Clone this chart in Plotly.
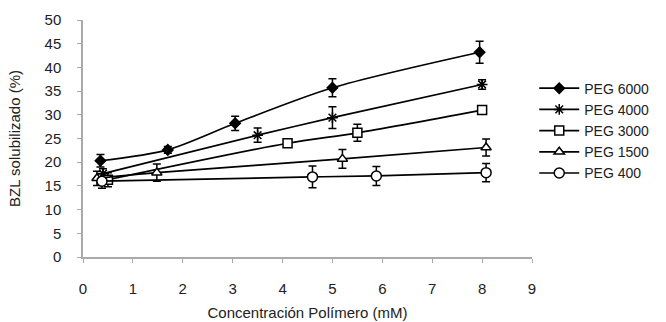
import plotly.graph_objects as go

# Solubilised BZL (%) against polymer concentration (mM) for each PEG grade
peg6000_x = [0.35, 1.70, 3.05, 5.00, 7.95]
peg6000_y = [20.3, 22.6, 28.2, 35.7, 43.2]
peg6000_err = [1.3, 0.7, 1.5, 1.9, 2.3]

peg4000_x = [0.40, 3.50, 5.00, 8.00]
peg4000_y = [17.6, 25.7, 29.4, 36.4]
peg4000_err = [1.0, 1.5, 2.3, 1.0]

peg3000_x = [0.50, 4.10, 5.50, 8.00]
peg3000_y = [16.3, 24.0, 26.2, 31.0]
peg3000_err = [1.5, 0.8, 1.8, 0.8]

peg1500_x = [0.28, 1.48, 5.20, 8.08]
peg1500_y = [16.6, 17.8, 20.7, 23.1]
peg1500_err = [1.5, 1.8, 2.0, 1.8]

peg400_x = [0.38, 4.60, 5.88, 8.08]
peg400_y = [16.0, 16.9, 17.1, 17.8]
peg400_err = [1.5, 2.3, 2.0, 1.9]

x_ticks = list(range(0, 10))
y_ticks = list(range(0, 55, 5))

series = [
    ("PEG 6000", peg6000_x, peg6000_y, peg6000_err, "diamond", 8, "black"),
    ("PEG 4000", peg4000_x, peg4000_y, peg4000_err, "asterisk", 9, "black"),
    ("PEG 3000", peg3000_x, peg3000_y, peg3000_err, "square", 9, "white"),
    ("PEG 1500", peg1500_x, peg1500_y, peg1500_err, "triangle-up", 9, "white"),
    ("PEG 400", peg400_x, peg400_y, peg400_err, "circle", 10, "white"),
]

fig = go.Figure()
for name, xs, ys, errs, symbol, size, fill in series:
    fig.add_trace(go.Scatter(
        x=xs, y=ys, name=name, mode="lines+markers",
        line=dict(color="black", width=1.7, shape="spline", smoothing=0.8),
        marker=dict(symbol=symbol, size=size, color=fill,
                    line=dict(color="black", width=1.5)),
        error_y=dict(type="data", array=errs, visible=True,
                     color="black", thickness=1.5, width=4),
    ))

font_family = "Liberation Sans, Arial, sans-serif"
fig.update_layout(
    width=666, height=322,
    margin=dict(l=83, r=134, t=20, b=65),
    paper_bgcolor="white", plot_bgcolor="white",
    font=dict(family=font_family, size=15, color="#222222"),
    showlegend=True,
    legend=dict(x=1.005, y=0.778, xanchor="left", yanchor="top",
                font=dict(size=14, color="#222222"),
                bgcolor="rgba(0,0,0,0)", itemwidth=40,
                tracegroupgap=0),
    xaxis=dict(
        range=[0, 9], tickvals=x_ticks, ticktext=[str(v) for v in x_ticks],
        showgrid=False, zeroline=False, showline=True,
        linecolor="#aaaaaa", linewidth=1.5,
        ticks="outside", ticklen=4, tickcolor="#aaaaaa",
        ticklabelstandoff=13, automargin=False,
        title=dict(text="Concentración Polímero (mM)", standoff=12,
                   font=dict(size=15)),
    ),
    yaxis=dict(
        range=[0, 50], tickvals=y_ticks, ticktext=[str(v) for v in y_ticks],
        showgrid=False, zeroline=False, showline=True,
        linecolor="#aaaaaa", linewidth=1.5,
        ticks="outside", ticklen=4, tickcolor="#aaaaaa",
        ticklabelstandoff=13, automargin=False,
        title=dict(text="BZL solubilizado (%)", standoff=20,
                   font=dict(size=15)),
    ),
)

fig.write_html("out.html")
